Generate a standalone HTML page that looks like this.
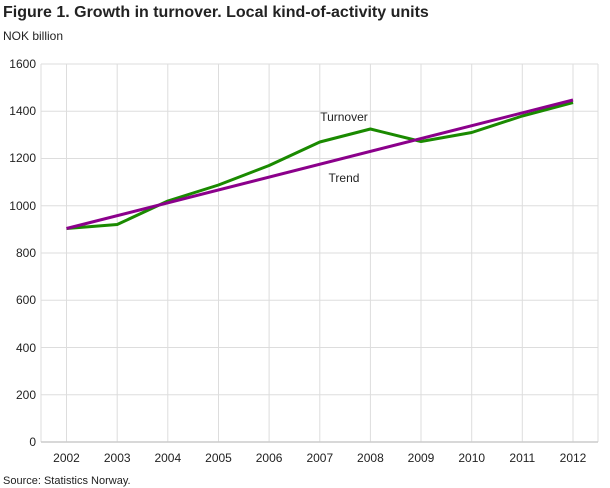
<!DOCTYPE html>
<html><head><meta charset="utf-8"><style>
body{margin:0;background:#fff;}
svg{display:block;font-family:"Liberation Sans",sans-serif;}
</style></head><body>
<svg width="610" height="488" viewBox="0 0 610 488">
<text x="3" y="17" font-size="16" font-weight="bold" fill="#222">Figure 1. Growth in turnover. Local kind-of-activity units</text>
<text x="3" y="40" font-size="12" fill="#222">NOK billion</text>
<g stroke="#ddd" stroke-width="1">
<line x1="41" y1="64" x2="598" y2="64"/><line x1="41" y1="111.2" x2="598" y2="111.2"/><line x1="41" y1="158.5" x2="598" y2="158.5"/><line x1="41" y1="205.7" x2="598" y2="205.7"/><line x1="41" y1="253" x2="598" y2="253"/><line x1="41" y1="300.2" x2="598" y2="300.2"/><line x1="41" y1="347.5" x2="598" y2="347.5"/><line x1="41" y1="394.7" x2="598" y2="394.7"/>
<line x1="41" y1="64" x2="41" y2="442"/><line x1="598" y1="64" x2="598" y2="442"/>
<line x1="66.5" y1="64" x2="66.5" y2="442"/><line x1="117.2" y1="64" x2="117.2" y2="442"/><line x1="167.8" y1="64" x2="167.8" y2="442"/><line x1="218.5" y1="64" x2="218.5" y2="442"/><line x1="269.1" y1="64" x2="269.1" y2="442"/><line x1="319.8" y1="64" x2="319.8" y2="442"/><line x1="370.4" y1="64" x2="370.4" y2="442"/><line x1="421" y1="64" x2="421" y2="442"/><line x1="471.7" y1="64" x2="471.7" y2="442"/><line x1="522.3" y1="64" x2="522.3" y2="442"/><line x1="573" y1="64" x2="573" y2="442"/>
</g>
<line x1="41" y1="442" x2="598" y2="442" stroke="#ccc" stroke-width="1.5"/>
<g font-size="12" fill="#222" text-anchor="end">
<text x="36" y="68">1600</text><text x="36" y="115">1400</text><text x="36" y="162">1200</text><text x="36" y="210">1000</text><text x="36" y="257">800</text><text x="36" y="304">600</text><text x="36" y="352">400</text><text x="36" y="399">200</text><text x="36" y="446">0</text>
</g>
<g font-size="12" fill="#222" text-anchor="middle">
<text x="66.5" y="462">2002</text><text x="117.2" y="462">2003</text><text x="167.8" y="462">2004</text><text x="218.5" y="462">2005</text><text x="269.1" y="462">2006</text><text x="319.8" y="462">2007</text><text x="370.4" y="462">2008</text><text x="421" y="462">2009</text><text x="471.7" y="462">2010</text><text x="522.3" y="462">2011</text><text x="573" y="462">2012</text>
</g>
<polyline fill="none" stroke="#1a8a00" stroke-width="3" stroke-linejoin="round" points="66.5,228.5 117.2,224.5 167.8,201 218.5,185 269.1,165.5 319.8,142 370.4,129 421,141.5 471.7,132.5 522.3,116 573,102.5"/>
<line x1="66.5" y1="228.5" x2="573" y2="100" stroke="#8b008b" stroke-width="3"/>
<text x="344" y="121" font-size="12" fill="#222" text-anchor="middle">Turnover</text>
<text x="344" y="182" font-size="12" fill="#222" text-anchor="middle">Trend</text>
<text x="3" y="484" font-size="11" fill="#222">Source: Statistics Norway.</text>
</svg>
</body></html>
